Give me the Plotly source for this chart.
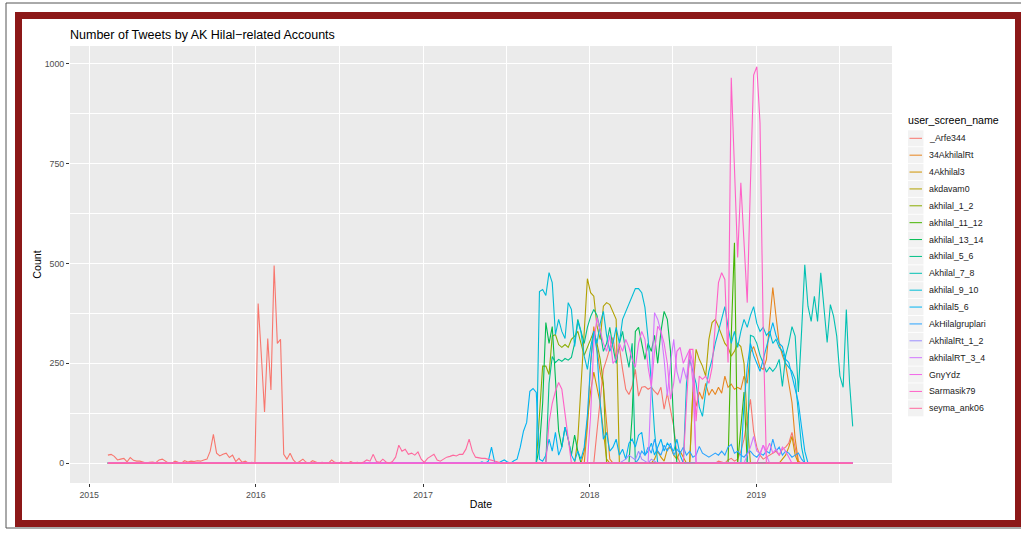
import math
import pandas as pd
import plotly.graph_objects as go

# ---------------- data (weekly tweet counts) ----------------
FIRST_WEEK = "2015-02-11"
N_WEEKS = 234
WEEK_DATES = pd.date_range(FIRST_WEEK, periods=N_WEEKS, freq="7D")

ACCOUNTS = ["_Arfe344", "34AkhilalRt", "4Akhilal3", "akdavam0", "akhilal_1_2",
            "akhilal_11_12", "akhilal_13_14", "akhilal_5_6", "Akhilal_7_8",
            "akhilal_9_10", "akhilal5_6", "AkHilalgruplari", "AkhilalRt_1_2",
            "akhilalRT_3_4", "GnyYdz", "Sarmasik79", "seyma_ank06"]

# each account: list of (first week offset, counts for consecutive weeks); other weeks read as 0
ARFE344 = [(0, [20, 22, 17, 8, 10, 12, 3, 14, 7, 5, 5, 3, 0, 2, 3, 1, 8, 10, 4, 0, 0, 5, 2, 0, 6, 3, 5, 4, 6, 5,
                8, 10, 30, 72, 25, 18, 22, 25, 14, 20, 4, 12, 2, 5, 0, 2, 0,
                400, 270, 128, 312, 183, 495, 300, 310,
                22, 10, 25, 8, 0, 4, 10, 2, 0, 6, 3, 0, 2, 0, 0, 8, 2, 0, 3, 0, 0, 4, 0, 2, 0, 0]),
           (152, [0, 80, 160, 235, 260, 290, 315, 260, 292, 235, 185, 172, 192, 235, 168, 190, 192, 185, 190,
                  180, 172, 190, 135, 175, 130, 92, 20, 0]),
           (190, [0, 5, 3, 0, 8, 12, 5, 10, 30, 60, 110, 160, 80, 40, 20, 10, 15, 20, 25, 30, 20, 35, 40, 50,
                  77, 40, 0])]
AKHILALRT34 = [(149, [0, 90, 250, 342, 280, 228, 192, 100, 10, 0]),
               (182, [0, 178, 142, 178, 160, 200, 170, 185, 172, 190, 175, 218, 190, 198, 185, 190, 185, 218,
                      200, 277, 292, 268, 240, 235, 260, 352, 440, 368, 300, 270, 248, 200, 152, 60, 5, 0])]
AKHILAL3 = [(148, [0, 30, 100, 180, 228, 192, 150, 80, 10, 0]),
            (170, [0, 10, 30, 15, 5, 35, 40, 20, 10, 30, 15, 0]),
            (210, [0, 10, 20, 40, 67, 20, 0])]
AKDAVAM0 = [(146, [0, 60, 200, 348, 462, 427, 418, 343, 310, 393, 402, 397, 377, 360, 0]),
            (182, [0, 185, 285, 260, 243, 218, 310, 352, 360, 342, 320, 300, 290, 268, 280, 300, 292, 250,
                   102, 0])]
AKHILAL_1_2 = [(134, [0, 120, 243, 243, 222, 318, 322, 297, 290, 297, 290, 310, 318, 330, 302, 270, 290,
                      310, 330, 300, 260, 200, 0])]
AKHILAL_11_12 = [(194, [0, 318, 552, 0, 85, 178, 0])]
AKHILAL_13_14 = [(134, [0, 40, 150, 352, 300, 342, 200, 80, 40, 90, 60, 20, 70, 30, 0]),
                 (163, [0, 120, 330, 340, 300, 260, 300, 280, 320, 250, 330, 380, 360, 280, 90, 0])]
AKHILAL_5_6 = [(137, [0, 200, 267, 252, 260, 255, 262, 258, 265, 300, 360, 330, 300, 340, 367, 385, 370,
                      330, 280, 300, 340, 290, 250, 300, 330, 280, 240, 300, 0])]
AKHILAL_7_8 = [(200, [0, 320, 317, 300, 270, 250, 228, 240, 230, 240, 260, 192, 268, 300, 342, 318, 178,
                      330, 497, 393, 355, 418, 355, 477, 385, 302, 397, 368, 318, 218, 190, 385, 202, 92])]
AKHILAL_9_10 = [(134, [0, 430, 435, 420, 477, 452, 322, 360, 330, 312, 402, 385, 292, 355, 328, 268, 235,
                       290, 330, 300, 350, 380, 320, 280, 300, 340, 300, 360, 380, 400, 420, 437, 437, 427,
                       390, 310, 200, 80, 0]),
                (180, [0, 200, 260, 230, 200, 140, 117, 180, 230, 260, 300, 330, 360, 392, 340, 300, 330,
                       290, 330, 360, 340, 370, 392, 350, 330, 340, 320, 330, 300, 310, 290, 280, 250, 240,
                       230, 210, 120, 40, 0])]
AKHILAL5_6 = [(116, [0, 3, 0, 5, 40, 2, 0, 4, 8, 3, 0, 6, 10, 40, 80, 102, 180, 187, 177, 10,
                     5, 20, 60, 30, 77, 20, 40, 90, 60, 20, 5, 30, 10, 40, 120, 250, 330, 280, 150, 60,
                     77, 30, 40, 60, 20, 35, 10, 50, 60, 40, 70, 77, 20, 30, 50, 20, 40, 60, 30, 50,
                     40, 30, 60, 20, 0]),
              (198, [0, 150, 240, 300, 270, 250, 230, 260, 290, 318, 352, 320, 300, 292, 260, 252, 220, 190,
                     152, 90, 30, 0])]
AKHILALGRUPLARI = [(165, [0, 10, 30, 20, 40, 25, 60, 30, 20, 45, 30, 50, 20, 35, 25, 40, 20, 30, 15, 20,
                          42, 25, 20, 15, 20, 25, 20, 30, 20, 40, 47, 25, 30, 20, 15, 25, 30, 20, 15, 25,
                          20, 30, 25, 60, 30, 40, 20, 30, 25, 15, 20, 25, 10, 0])]
AKHILALRT_1_2 = [(160, [0, 5, 10, 20, 15, 8, 30, 10, 5, 0, 10, 5, 0])]
AKHILALRT_3_4 = [(169, [0, 200, 377, 360, 330, 260, 168, 250, 310, 230, 200, 240, 210, 285, 250, 0]),
                 (199, [0, 20, 40, 67, 30, 25, 45, 20, 0])]
GNYYDZ = [(150, [0, 120, 300, 365, 330, 300, 280, 320, 250, 260, 300, 280, 310, 290, 260, 240, 300, 330,
                 310, 240, 192, 280, 343, 330, 300, 250, 160, 200, 280, 290, 250, 270, 285, 200, 0]),
          (203, [0, 20, 45, 30, 50, 25, 35, 20, 40, 30, 15, 0])]
SARMASIK79 = [(137, [0, 102, 150, 180, 202, 185, 120, 60, 0]),
              (180, [0, 150, 285, 285, 105, 218, 210, 218, 200, 240, 360, 452, 477, 460, 252, 965, 740,
                     515, 702, 550, 402, 700, 972, 993, 852, 330, 0])]
SEYMA_ANK06 = [(80, [3, 8, 5, 22, 4, 2, 10, 3, 0, 4, 15, 45, 30, 35, 22, 25, 20, 28, 10, 2, 12, 17, 22, 8,
                     5, 10, 15, 17, 20, 18, 22, 22, 35, 60, 30, 15, 13, 12, 12, 10, 8, 5, 3, 0])]

SERIES = [ARFE344, AKHILALRT34, AKHILAL3, AKDAVAM0, AKHILAL_1_2, AKHILAL_11_12, AKHILAL_13_14,
          AKHILAL_5_6, AKHILAL_7_8, AKHILAL_9_10, AKHILAL5_6, AKHILALGRUPLARI, AKHILALRT_1_2,
          AKHILALRT_3_4, GNYYDZ, SARMASIK79, SEYMA_ANK06]

X_TICKS = ["2015-01-01", "2016-01-01", "2017-01-01", "2018-01-01", "2019-01-01"]
X_TICKLABELS = ["2015", "2016", "2017", "2018", "2019"]
X_MINOR = ["2015-07-02", "2016-07-02", "2017-07-02", "2018-07-02", "2019-07-02"]
Y_TICKS = [0, 250, 500, 750, 1000]
Y_MINOR = [125, 375, 625, 875]


# ---------------- helpers ----------------
def hcl_hex(h, c=100.0, l=65.0):
    """ggplot2 default hue palette colour (R grDevices::hcl)."""
    wy, wu, wv = 100.0, 0.1978398, 0.4683363
    hr = math.radians(h)
    U, V = c * math.cos(hr), c * math.sin(hr)
    Y = wy * ((l + 16) / 116) ** 3
    u = U / (13 * l) + wu
    v = V / (13 * l) + wv
    X = 9.0 * Y * u / (4 * v)
    Z = -X / 3 - 5 * Y + 3 * Y / v

    def g(t):
        t = 1.055 * t ** (1 / 2.4) - 0.055 if t > 0.00304 else 12.92 * t
        return int(255 * min(1.0, max(0.0, t)) + 0.5)

    r = g((3.240479 * X - 1.537150 * Y - 0.498535 * Z) / wy)
    gg = g((-0.969256 * X + 1.875992 * Y + 0.041556 * Z) / wy)
    b = g((0.055648 * X - 0.204043 * Y + 1.057311 * Z) / wy)
    return "#%02X%02X%02X" % (r, gg, b)


def build(segments):
    arr = [0] * N_WEEKS
    for start, vals in segments:
        for k, val in enumerate(vals):
            arr[start + k] = val
    return arr


n = len(ACCOUNTS)
COLORS = [hcl_hex(15 + i * 360.0 / n) for i in range(n)]

W, H = 1021, 533
ML, MR, MT, MB = 70, 129, 46, 50
PW, PH = W - ML - MR, H - MT - MB


def px(x):
    return (x - ML) / PW


def py(y):
    return (H - MB - y) / PH


FONT = "Liberation Sans, Arial, Helvetica, sans-serif"

fig = go.Figure()
for name, segs, col in zip(ACCOUNTS, SERIES, COLORS):
    fig.add_trace(go.Scatter(x=WEEK_DATES, y=build(segs), mode="lines", name=name,
                             line=dict(color=col, width=1.1), showlegend=False,
                             hoverinfo="x+y+name"))

shapes = []
annotations = []
# outer frame of the picture
shapes.append(dict(type="rect", xref="paper", yref="paper", x0=px(6), x1=px(1040), y0=py(3), y1=py(528),
                   line=dict(color="#555555", width=1), fillcolor="rgba(0,0,0,0)", layer="above"))
shapes.append(dict(type="rect", xref="paper", yref="paper", x0=px(18.5), x1=px(1018.5), y0=py(15.5),
                   y1=py(523.5), line=dict(color="#8C1818", width=7), fillcolor="rgba(0,0,0,0)",
                   layer="above"))

# legend (ggplot style)
annotations.append(dict(xref="paper", yref="paper", x=px(906), y=py(120), xanchor="left", yanchor="middle",
                        text="user_screen_name", showarrow=False,
                        font=dict(family=FONT, size=10.6, color="#000000")))
for i, (name, col) in enumerate(zip(ACCOUNTS, COLORS)):
    yc = 138.3 + 16.875 * i
    shapes.append(dict(type="rect", xref="paper", yref="paper", x0=px(908), x1=px(923.5),
                       y0=py(yc + 8.0), y1=py(yc - 8.0), line=dict(width=0), fillcolor="#F2F2F2",
                       layer="above"))
    shapes.append(dict(type="line", xref="paper", yref="paper", x0=px(909.5), x1=px(922), y0=py(yc),
                       y1=py(yc), line=dict(color=col, width=1), layer="above"))
    annotations.append(dict(xref="paper", yref="paper", x=px(927.5), y=py(yc), xanchor="left",
                            yanchor="middle", text=name, showarrow=False,
                            font=dict(family=FONT, size=8.8, color="#1A1A1A")))

fig.update_layout(
    width=W, height=H, autosize=False,
    margin=dict(l=ML, r=MR, t=MT, b=MB, pad=0),
    paper_bgcolor="#FFFFFF", plot_bgcolor="#EBEBEB",
    font=dict(family=FONT, color="#000000"),
    title=dict(text="Number of Tweets by AK Hilal\u2212related Accounts", x=70 / W, xref="container",
               xanchor="left", y=1 - 34.5 / H, yref="container", yanchor="middle",
               font=dict(family=FONT, size=12.5, color="#000000")),
    shapes=shapes, annotations=annotations,
    showlegend=False,
    xaxis=dict(type="date", range=["2014-11-20", "2019-10-25"], tickvals=X_TICKS, ticktext=X_TICKLABELS,
               ticks="outside", ticklen=3, tickwidth=1, tickcolor="#333333",
               tickfont=dict(family=FONT, size=8.8, color="#4D4D4D"),
               showgrid=True, gridcolor="#FFFFFF", gridwidth=1.1, zeroline=False, showline=False,
               minor=dict(tickvals=X_MINOR, showgrid=True, gridcolor="#FFFFFF", gridwidth=0.55, ticks=""),
               title=dict(text="Date", font=dict(family=FONT, size=10.6, color="#000000"), standoff=2)),
    yaxis=dict(range=[-49.75, 1044.75], tickvals=Y_TICKS, ticks="outside", ticklen=3, tickwidth=1,
               tickcolor="#333333", tickfont=dict(family=FONT, size=8.8, color="#4D4D4D"),
               showgrid=True, gridcolor="#FFFFFF", gridwidth=1.1, zeroline=False, showline=False,
               minor=dict(tickvals=Y_MINOR, showgrid=True, gridcolor="#FFFFFF", gridwidth=0.55, ticks=""),
               title=dict(text="Count", font=dict(family=FONT, size=10.6, color="#000000"), standoff=0)),
)

fig.write_html("out.html", config={"displayModeBar": False},
               post_script="document.body.style.margin='0';document.body.style.overflow='hidden';")
